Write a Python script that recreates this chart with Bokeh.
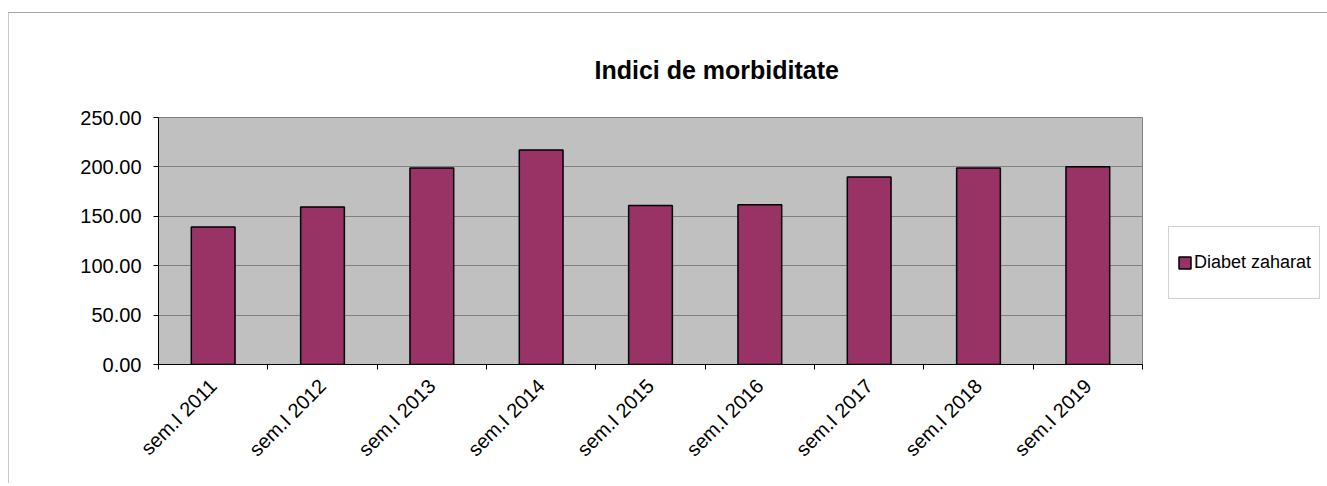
import math
from bokeh.plotting import figure
from bokeh.models import (Range1d, FixedTicker, Legend, LegendItem, ColumnDataSource,
                          NumeralTickFormatter)
from bokeh.embed import file_html
from bokeh.resources import INLINE

# ---- data ----
categories = ["sem.I 2011", "sem.I 2012", "sem.I 2013", "sem.I 2014", "sem.I 2015",
              "sem.I 2016", "sem.I 2017", "sem.I 2018", "sem.I 2019"]
values = [139.2, 159.5, 198.9, 217.2, 161.0, 161.8, 189.7, 198.9, 200.2]
y_ticks = [0, 50, 100, 150, 200, 250]
series_name = "Diabet zaharat"
chart_title = "Indici de morbiditate"

FONT = "Liberation Sans"
n = len(categories)
xs = [i + 0.5 for i in range(n)]
src = ColumnDataSource(dict(x=xs, top=values, cat=categories))

p = figure(frame_width=984, frame_height=247, output_backend="svg", toolbar_location=None,
           x_range=Range1d(0, n), y_range=Range1d(0, 250),
           min_border_left=149, min_border_right=178, min_border_top=104, min_border_bottom=119,
           background_fill_color="#c0c0c0", border_fill_color="white")
p.styles = {"border-top": "1px solid #a6a6a6", "border-left": "1px solid #c8c8c8",
            "margin-top": "12px", "margin-left": "8px"}

p.title.text = chart_title
p.title.text_font = FONT
p.title.text_font_size = "25px"
p.title.text_font_style = "bold"
p.title.text_color = "black"
p.title.align = "left"
p.title.offset = 436
p.title.standoff = 67

p.outline_line_color = "#808080"
p.xgrid.visible = False
p.ygrid.grid_line_color = "#808080"
p.ygrid.grid_line_width = 1

# y axis
p.yaxis.ticker = FixedTicker(ticks=y_ticks)
p.yaxis.formatter = NumeralTickFormatter(format="0.00")
p.yaxis.major_tick_out = 5
p.yaxis.major_tick_in = 0
p.yaxis.minor_tick_line_color = None
p.yaxis.axis_line_color = "black"
p.yaxis.major_tick_line_color = "black"
p.yaxis.major_label_text_font = FONT
p.yaxis.major_label_text_font_size = "20px"
p.yaxis.major_label_text_color = "black"
p.yaxis.major_label_standoff = 12

# x axis
p.xaxis.ticker = FixedTicker(ticks=xs, minor_ticks=list(range(n + 1)))
p.xaxis.major_label_overrides = {x: c for x, c in zip(xs, categories)}
p.xaxis.major_tick_out = 0
p.xaxis.major_tick_in = 0
p.xaxis.minor_tick_out = 5
p.xaxis.minor_tick_in = 0
p.xaxis.minor_tick_line_color = "black"
p.xaxis.axis_line_color = "black"
p.xaxis.major_label_orientation = math.pi / 4
p.xaxis.major_label_text_font = FONT
p.xaxis.major_label_text_font_size = "20px"
p.xaxis.major_label_text_color = "black"
p.xaxis.major_label_standoff = 13

r = p.vbar(x="x", top="top", width=0.4, source=src, fill_color="#993366",
           line_color="black", line_width=1.5)

legend = Legend(items=[LegendItem(label=series_name, renderers=[r])], location=(26, 65),
                border_line_color="#a6a6a6", border_line_width=1,
                background_fill_color="white", background_fill_alpha=1.0,
                padding=8, margin=0, glyph_width=15, glyph_height=15, label_standoff=2,
                label_text_font=FONT, label_text_font_size="18px", label_text_color="black",
                label_height=55)
p.add_layout(legend, "right")

open("out.html", "w").write(file_html(p, INLINE))
